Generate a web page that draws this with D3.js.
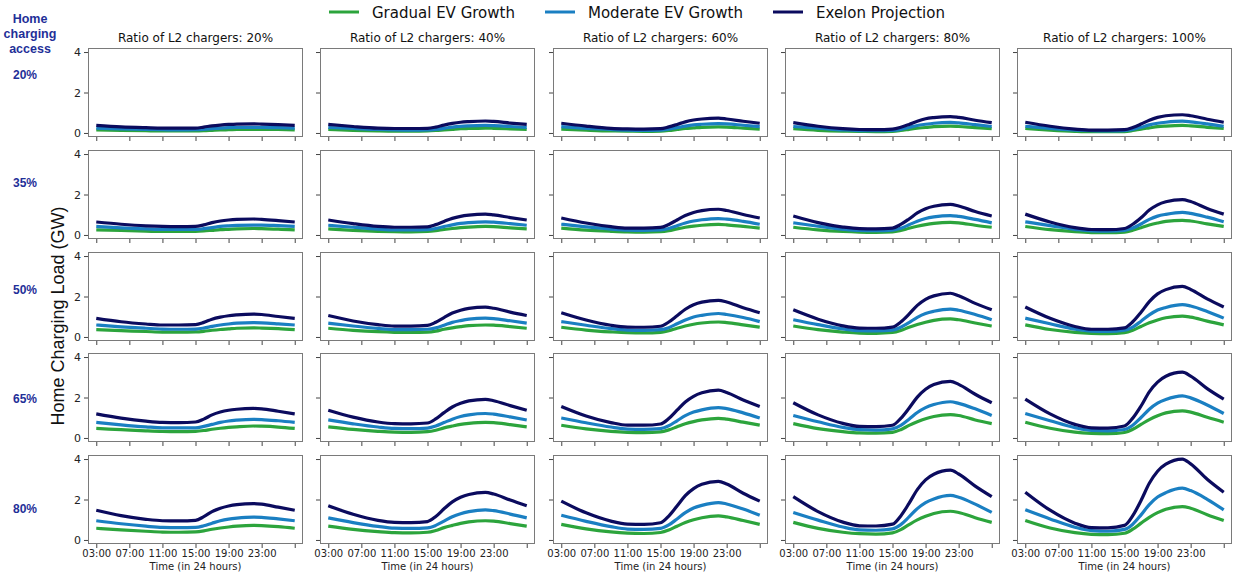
<!DOCTYPE html>
<html>
<head>
<meta charset="utf-8">
<script src="https://cdn.jsdelivr.net/npm/d3@7"></script>
<style>
  body { margin: 0; background: #ffffff; }
  svg { display: block; }
</style>
</head>
<body>
<svg id="chart" width="1234" height="575"></svg>
<script>
// Hour of day for each sample (27 = 03:00 on the following day)
const hours = [3, 6, 9, 11, 13, 15, 16, 17, 18, 19, 20, 22, 23, 25, 27];

// Rows: home charging access; columns: share of L2 chargers
const accessLevels = ["20%", "35%", "50%", "65%", "80%"];
const l2Ratios = ["20%", "40%", "60%", "80%", "100%"];

const xTickHours = [3, 7, 11, 15, 19, 23, 27];
const xTickLabels = ["03:00", "07:00", "11:00", "15:00", "19:00", "23:00", ""];
const yTicks = [0, 2, 4];

const seriesNames = ["Gradual EV Growth", "Moderate EV Growth", "Exelon Projection"];

// Load in GW, indexed [access row][L2 ratio column][sample]
const gradual = [
  [
    [0.15,0.13,0.11,0.10,0.10,0.10,0.11,0.13,0.15,0.16,0.17,0.18,0.18,0.17,0.15],
    [0.17,0.13,0.10,0.09,0.09,0.10,0.12,0.15,0.18,0.21,0.22,0.24,0.23,0.20,0.17],
    [0.19,0.14,0.10,0.09,0.08,0.09,0.12,0.17,0.22,0.25,0.28,0.30,0.29,0.24,0.19],
    [0.21,0.13,0.09,0.08,0.07,0.08,0.12,0.18,0.24,0.27,0.31,0.34,0.32,0.26,0.21],
    [0.22,0.14,0.08,0.06,0.06,0.07,0.12,0.19,0.25,0.31,0.34,0.37,0.35,0.28,0.22]
  ],
  [
    [0.25,0.22,0.19,0.17,0.17,0.18,0.20,0.23,0.26,0.28,0.30,0.32,0.31,0.29,0.25],
    [0.30,0.23,0.18,0.16,0.15,0.17,0.21,0.27,0.32,0.36,0.39,0.42,0.41,0.35,0.30],
    [0.34,0.24,0.18,0.15,0.14,0.16,0.21,0.30,0.38,0.44,0.48,0.52,0.50,0.42,0.34],
    [0.38,0.25,0.17,0.14,0.13,0.15,0.22,0.33,0.43,0.51,0.57,0.62,0.60,0.48,0.38],
    [0.42,0.26,0.16,0.12,0.11,0.14,0.23,0.36,0.49,0.59,0.67,0.72,0.69,0.55,0.42]
  ],
  [
    [0.36,0.31,0.27,0.24,0.24,0.25,0.28,0.33,0.37,0.40,0.43,0.45,0.44,0.41,0.36],
    [0.43,0.33,0.26,0.23,0.22,0.24,0.29,0.38,0.45,0.51,0.56,0.59,0.58,0.51,0.43],
    [0.48,0.34,0.25,0.21,0.20,0.23,0.31,0.43,0.54,0.63,0.69,0.74,0.71,0.60,0.48],
    [0.54,0.36,0.24,0.19,0.18,0.22,0.32,0.48,0.62,0.73,0.82,0.89,0.85,0.69,0.54],
    [0.60,0.37,0.23,0.18,0.16,0.21,0.33,0.52,0.70,0.84,0.95,1.03,0.98,0.78,0.60]
  ],
  [
    [0.47,0.41,0.35,0.32,0.31,0.33,0.37,0.43,0.48,0.52,0.55,0.59,0.58,0.54,0.47],
    [0.55,0.42,0.33,0.29,0.28,0.31,0.38,0.50,0.59,0.67,0.72,0.77,0.76,0.66,0.55],
    [0.63,0.45,0.33,0.28,0.26,0.30,0.40,0.55,0.70,0.81,0.89,0.97,0.93,0.78,0.63],
    [0.71,0.46,0.31,0.25,0.24,0.28,0.41,0.62,0.80,0.95,1.06,1.15,1.11,0.89,0.71],
    [0.78,0.48,0.29,0.23,0.21,0.27,0.43,0.67,0.91,1.10,1.24,1.34,1.28,1.02,0.78]
  ],
  [
    [0.58,0.50,0.43,0.39,0.38,0.40,0.45,0.53,0.59,0.64,0.68,0.72,0.71,0.66,0.58],
    [0.68,0.52,0.41,0.36,0.35,0.38,0.47,0.61,0.72,0.82,0.89,0.95,0.93,0.81,0.68],
    [0.77,0.55,0.40,0.34,0.32,0.37,0.49,0.68,0.86,1.00,1.10,1.19,1.14,0.96,0.77],
    [0.87,0.57,0.38,0.31,0.29,0.35,0.51,0.76,0.99,1.17,1.31,1.42,1.36,1.10,0.87],
    [0.96,0.59,0.36,0.28,0.26,0.33,0.53,0.83,1.12,1.35,1.52,1.65,1.57,1.25,0.96]
  ]
];

const moderate = [
  [
    [0.24,0.20,0.17,0.16,0.15,0.16,0.18,0.21,0.24,0.26,0.27,0.28,0.28,0.26,0.24],
    [0.27,0.22,0.17,0.15,0.14,0.15,0.18,0.23,0.29,0.33,0.35,0.37,0.36,0.32,0.27],
    [0.31,0.23,0.17,0.14,0.13,0.14,0.19,0.26,0.34,0.40,0.43,0.46,0.45,0.38,0.31],
    [0.32,0.24,0.15,0.12,0.11,0.13,0.18,0.27,0.37,0.43,0.48,0.52,0.50,0.41,0.32],
    [0.33,0.23,0.14,0.11,0.10,0.12,0.18,0.28,0.40,0.48,0.53,0.58,0.55,0.45,0.33]
  ],
  [
    [0.42,0.35,0.30,0.27,0.27,0.27,0.31,0.36,0.42,0.45,0.47,0.49,0.49,0.46,0.42],
    [0.48,0.38,0.29,0.25,0.25,0.26,0.32,0.41,0.50,0.57,0.61,0.65,0.63,0.56,0.48],
    [0.53,0.40,0.29,0.24,0.23,0.25,0.32,0.46,0.59,0.69,0.75,0.81,0.78,0.67,0.53],
    [0.60,0.43,0.28,0.22,0.21,0.24,0.33,0.50,0.68,0.81,0.89,0.96,0.92,0.77,0.60],
    [0.65,0.46,0.28,0.20,0.19,0.23,0.34,0.54,0.77,0.93,1.02,1.12,1.07,0.88,0.65]
  ],
  [
    [0.59,0.50,0.43,0.39,0.38,0.39,0.44,0.52,0.59,0.64,0.68,0.71,0.70,0.65,0.59],
    [0.68,0.54,0.42,0.36,0.36,0.38,0.45,0.58,0.72,0.81,0.88,0.93,0.91,0.80,0.68],
    [0.76,0.58,0.41,0.34,0.33,0.36,0.46,0.65,0.84,0.99,1.07,1.16,1.11,0.96,0.76],
    [0.85,0.61,0.40,0.31,0.30,0.34,0.48,0.71,0.97,1.16,1.27,1.38,1.32,1.11,0.85],
    [0.93,0.65,0.39,0.29,0.27,0.33,0.49,0.78,1.09,1.33,1.46,1.60,1.53,1.26,0.93]
  ],
  [
    [0.77,0.65,0.55,0.50,0.50,0.50,0.57,0.67,0.77,0.84,0.88,0.92,0.91,0.85,0.77],
    [0.89,0.70,0.54,0.47,0.46,0.49,0.59,0.76,0.93,1.06,1.14,1.21,1.18,1.04,0.89],
    [0.99,0.75,0.54,0.44,0.42,0.46,0.60,0.85,1.10,1.28,1.39,1.50,1.45,1.24,0.99],
    [1.11,0.80,0.52,0.41,0.39,0.45,0.62,0.93,1.26,1.50,1.65,1.79,1.71,1.44,1.11],
    [1.21,0.85,0.51,0.37,0.35,0.42,0.63,1.01,1.42,1.72,1.90,2.08,1.98,1.63,1.21]
  ],
  [
    [0.95,0.80,0.68,0.62,0.61,0.62,0.70,0.83,0.95,1.03,1.08,1.13,1.12,1.04,0.95],
    [1.09,0.86,0.67,0.58,0.57,0.60,0.72,0.93,1.15,1.30,1.40,1.49,1.45,1.28,1.09],
    [1.22,0.92,0.66,0.54,0.52,0.57,0.74,1.04,1.35,1.58,1.71,1.85,1.78,1.53,1.22],
    [1.36,0.98,0.64,0.50,0.48,0.55,0.76,1.14,1.55,1.85,2.03,2.20,2.11,1.77,1.36],
    [1.49,1.04,0.63,0.46,0.43,0.52,0.78,1.24,1.75,2.12,2.34,2.56,2.44,2.01,1.49]
  ]
];

const exelon = [
  [
    [0.37,0.30,0.26,0.24,0.24,0.24,0.29,0.35,0.39,0.42,0.44,0.45,0.44,0.41,0.37],
    [0.42,0.32,0.24,0.22,0.22,0.23,0.29,0.39,0.47,0.53,0.56,0.59,0.57,0.49,0.42],
    [0.48,0.34,0.23,0.20,0.19,0.21,0.30,0.42,0.55,0.64,0.69,0.73,0.69,0.58,0.48],
    [0.51,0.33,0.21,0.17,0.16,0.19,0.28,0.42,0.58,0.70,0.76,0.81,0.77,0.63,0.51],
    [0.53,0.33,0.19,0.14,0.14,0.16,0.27,0.44,0.63,0.77,0.85,0.90,0.85,0.68,0.53]
  ],
  [
    [0.64,0.53,0.45,0.42,0.41,0.42,0.50,0.61,0.69,0.74,0.77,0.79,0.77,0.71,0.64],
    [0.74,0.56,0.42,0.38,0.38,0.40,0.51,0.67,0.82,0.92,0.98,1.03,0.99,0.86,0.74],
    [0.84,0.59,0.41,0.34,0.34,0.37,0.52,0.74,0.96,1.11,1.20,1.27,1.21,1.01,0.84],
    [0.94,0.61,0.39,0.31,0.30,0.34,0.52,0.79,1.09,1.30,1.42,1.51,1.43,1.16,0.94],
    [1.03,0.64,0.36,0.27,0.26,0.32,0.53,0.85,1.23,1.49,1.64,1.75,1.65,1.31,1.03]
  ],
  [
    [0.92,0.75,0.64,0.59,0.59,0.61,0.72,0.88,0.98,1.05,1.09,1.13,1.11,1.01,0.92],
    [1.06,0.79,0.61,0.54,0.54,0.57,0.73,0.96,1.18,1.32,1.41,1.47,1.42,1.23,1.06],
    [1.20,0.84,0.58,0.49,0.48,0.53,0.74,1.05,1.37,1.59,1.72,1.81,1.73,1.44,1.20],
    [1.34,0.88,0.55,0.44,0.43,0.49,0.74,1.13,1.56,1.86,2.03,2.16,2.04,1.66,1.34],
    [1.48,0.92,0.52,0.38,0.38,0.45,0.75,1.22,1.75,2.13,2.34,2.50,2.35,1.88,1.48]
  ],
  [
    [1.19,0.98,0.83,0.77,0.76,0.79,0.93,1.14,1.28,1.37,1.42,1.46,1.44,1.32,1.19],
    [1.37,1.03,0.79,0.71,0.70,0.74,0.94,1.25,1.53,1.71,1.83,1.91,1.84,1.60,1.37],
    [1.56,1.09,0.76,0.63,0.63,0.69,0.96,1.37,1.78,2.06,2.23,2.36,2.25,1.88,1.56],
    [1.74,1.14,0.72,0.57,0.56,0.63,0.97,1.47,2.02,2.41,2.64,2.80,2.65,2.16,1.74],
    [1.92,1.19,0.67,0.50,0.49,0.59,0.98,1.58,2.28,2.76,3.05,3.25,3.06,2.44,1.92]
  ],
  [
    [1.47,1.20,1.02,0.95,0.94,0.97,1.15,1.40,1.57,1.68,1.75,1.80,1.77,1.62,1.47],
    [1.69,1.27,0.97,0.87,0.86,0.91,1.16,1.54,1.88,2.11,2.25,2.35,2.27,1.97,1.69],
    [1.92,1.34,0.93,0.78,0.77,0.85,1.18,1.68,2.19,2.54,2.75,2.90,2.77,2.31,1.92],
    [2.14,1.40,0.88,0.70,0.69,0.78,1.19,1.81,2.49,2.97,3.25,3.45,3.26,2.66,2.14],
    [2.36,1.47,0.83,0.61,0.60,0.72,1.20,1.95,2.80,3.40,3.75,4.00,3.76,3.00,2.36]
  ]
];

// ---- layout and styling ----
const seriesData = [gradual, moderate, exelon];
const seriesColors = ["#2ca43c", "#1a7fc2", "#0b0b5e"];
const labelBlue = "#1f2f98";

const panelW = 215, panelH = 89;
const gridLeft = 88, gridTop = 48;
const colStep = 232.25, rowStep = 101.75;

const svg = d3.select("#chart");

const x = d3.scaleLinear().domain([2, 28]).range([0, panelW]);
const y = d3.scaleLinear().domain([-0.2, 4.2]).range([panelH, 0]);

const line = d3.line()
  .x((d, i) => x(hours[i]))
  .y(d => y(d))
  .curve(d3.curveMonotoneX);

accessLevels.forEach((access, r) => {
  l2Ratios.forEach((ratio, c) => {
    const px = Math.round(gridLeft + c * colStep);
    const py = Math.round(gridTop + r * rowStep);
    const g = svg.append("g").attr("transform", `translate(${px},${py})`);

    // clip each panel's lines to its frame
    const clipId = `clip-${r}-${c}`;
    g.append("clipPath").attr("id", clipId)
      .append("rect").attr("width", panelW).attr("height", panelH);

    const lines = g.append("g").attr("clip-path", `url(#${clipId})`);
    seriesData.forEach((s, k) => {
      lines.append("path")
        .datum(s[r][c])
        .attr("d", line)
        .attr("fill", "none")
        .attr("stroke", seriesColors[k])
        .attr("stroke-width", 3.2)
        .attr("stroke-linejoin", "round");
    });

    // left axis: labels only in the first column
    const yAxis = d3.axisLeft(y)
      .tickValues(yTicks)
      .tickSize(4)
      .tickSizeOuter(0)
      .tickPadding(3)
      .tickFormat(c === 0 ? d3.format("d") : () => "");
    const ya = g.append("g").attr("class", "y-axis").call(yAxis);
    ya.select(".domain").remove();
    ya.selectAll(".tick line").attr("stroke", "#444");
    ya.selectAll(".tick text")
      .attr("fill", "#222")
      .style("font-family", "'DejaVu Sans', sans-serif")
      .style("font-size", "11px");

    // bottom axis: labels only in the last row
    const xAxis = d3.axisBottom(x)
      .tickValues(xTickHours)
      .tickSize(4)
      .tickSizeOuter(0)
      .tickPadding(2)
      .tickFormat((d, i) => (r === accessLevels.length - 1 ? xTickLabels[i] : ""));
    const xa = g.append("g").attr("class", "x-axis")
      .attr("transform", `translate(0,${panelH})`)
      .call(xAxis);
    xa.select(".domain").remove();
    xa.selectAll(".tick line").attr("stroke", "#444");
    xa.selectAll(".tick text")
      .attr("fill", "#222")
      .style("font-family", "'DejaVu Sans', sans-serif")
      .style("font-size", "10px");

    // panel frame
    g.append("rect")
      .attr("x", 0.5).attr("y", 0.5)
      .attr("width", panelW - 1).attr("height", panelH - 1)
      .attr("fill", "none")
      .attr("stroke", "#7a7a7a")
      .attr("stroke-width", 1);

    if (r === 0) {
      g.append("text")
        .attr("x", panelW / 2).attr("y", -6)
        .attr("text-anchor", "middle")
        .attr("fill", "#111")
        .style("font-family", "'DejaVu Sans', sans-serif")
        .style("font-size", "12px")
        .text(`Ratio of L2 chargers: ${ratio}`);
    }
    if (r === accessLevels.length - 1) {
      g.append("text")
        .attr("x", panelW / 2).attr("y", panelH + 26)
        .attr("text-anchor", "middle")
        .attr("fill", "#222")
        .style("font-family", "'DejaVu Sans', sans-serif")
        .style("font-size", "10px")
        .text("Time (in 24 hours)");
    }
  });
});

// row labels: home charging access
const rowLabelY = [79, 187, 294, 403, 513];
svg.append("g").selectAll("text")
  .data(accessLevels)
  .join("text")
  .attr("x", 25)
  .attr("y", (d, i) => rowLabelY[i])
  .attr("text-anchor", "middle")
  .attr("fill", labelBlue)
  .style("font-family", "'Liberation Sans', Arial, sans-serif")
  .style("font-weight", "bold")
  .style("font-size", "12px")
  .text(d => d);

const header = svg.append("text")
  .attr("text-anchor", "middle")
  .attr("fill", labelBlue)
  .style("font-family", "'Liberation Sans', Arial, sans-serif")
  .style("font-weight", "bold")
  .style("font-size", "12.5px");
["Home", "charging", "access"].forEach((w, i) => {
  header.append("tspan").attr("x", 30).attr("y", 23 + i * 15).text(w);
});

// shared y-axis title
svg.append("text")
  .attr("transform", "translate(64,316) rotate(-90)")
  .attr("text-anchor", "middle")
  .attr("fill", "#111")
  .style("font-family", "'Liberation Sans', Arial, sans-serif")
  .style("font-size", "18px")
  .text("Home Charging Load (GW)");

// legend across the top
const legendX = [329, 545, 773];
const legend = svg.append("g");
seriesNames.forEach((name, k) => {
  const lg = legend.append("g").attr("transform", `translate(${legendX[k]},12)`);
  lg.append("line")
    .attr("x1", 0).attr("x2", 30)
    .attr("stroke", seriesColors[k])
    .attr("stroke-width", 3);
  lg.append("text")
    .attr("x", 43).attr("y", 5.5)
    .attr("fill", "#111")
    .style("font-family", "'DejaVu Sans', sans-serif")
    .style("font-size", "15px")
    .text(name);
});
</script>
</body>
</html>
